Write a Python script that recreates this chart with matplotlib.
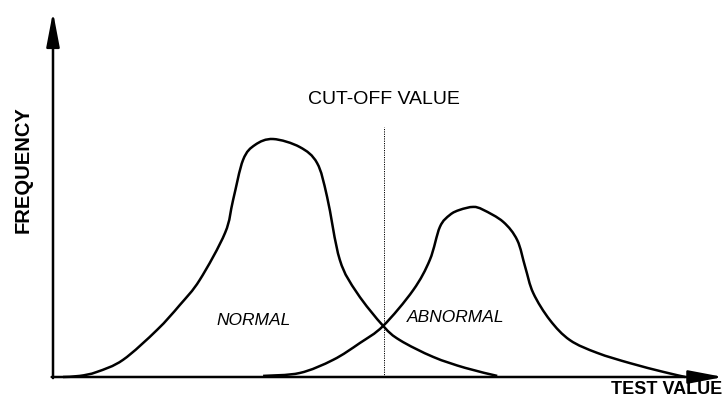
import matplotlib.pyplot as plt
from matplotlib.path import Path
from matplotlib.patches import PathPatch

# values (test value 0-100, frequency 0-100)
normal_x = [1.5, 4.0, 6.6, 10.5, 15.6, 19.0, 22.0, 25.8, 27.0, 28.5, 30.3, 33.0,
            37.0, 39.6, 41.1, 43.0, 45.6, 49.5, 52.0, 57.0, 61.8, 66.6]
normal_y = [0.0, 0.3, 1.4, 4.7, 12.9, 19.7, 26.6, 39.5, 48.5, 59.5, 63.6, 65.2,
            63.0, 58.6, 49.3, 32.1, 23.0, 14.0, 10.1, 5.5, 2.5, 0.3]

abnormal_x = [31.5, 37.0, 42.0, 46.0, 49.5, 54.0, 56.5, 58.0, 59.5, 61.0, 63.0,
              64.5, 67.5, 69.6, 70.8, 72.0, 74.5, 77.5, 81.6, 86.5, 91.5, 94.8]
abnormal_y = [0.3, 1.1, 4.7, 9.3, 14.0, 23.8, 32.1, 41.1, 44.4, 45.8, 46.6,
              45.8, 42.5, 37.5, 30.1, 23.0, 15.6, 10.1, 6.6, 3.8, 1.4, 0.0]

cutoff = 49.6
cutoff_top = 68.5

plt.rcParams['font.family'] = ['Liberation Sans', 'DejaVu Sans']


def smooth_path(xs, ys):
    # Catmull-Rom through the points, written as cubic Bezier segments
    pts = list(zip(xs, ys))
    verts = [pts[0]]
    codes = [Path.MOVETO]
    for i in range(len(pts) - 1):
        p0 = pts[i - 1] if i > 0 else pts[i]
        p1 = pts[i]
        p2 = pts[i + 1]
        p3 = pts[i + 2] if i + 2 < len(pts) else pts[i + 1]
        c1 = (p1[0] + (p2[0] - p0[0]) / 6, p1[1] + (p2[1] - p0[1]) / 6)
        c2 = (p2[0] - (p3[0] - p1[0]) / 6, p2[1] - (p3[1] - p1[1]) / 6)
        verts += [c1, c2, p2]
        codes += [Path.CURVE4] * 3
    return Path(verts, codes)


fig = plt.figure(figsize=(7.23, 4.12), dpi=100)
ax = fig.add_axes([53 / 723, 35 / 412, 667 / 723, 365 / 412])
ax.set_xlim(0, 100)
ax.set_ylim(0, 100)
ax.axis('off')

for xs, ys in [(normal_x, normal_y), (abnormal_x, abnormal_y)]:
    ax.add_patch(PathPatch(smooth_path(xs, ys), facecolor='none',
                           edgecolor='black', lw=1.8, clip_on=False))
ax.plot([cutoff, cutoff], [0, cutoff_top], color='black', lw=0.7,
        linestyle=(0, (1.2, 1.2)))

# axes with arrow heads
arrow = dict(arrowstyle='-|>,head_length=2.1,head_width=0.4', lw=1.8,
             color='black', shrinkA=0, shrinkB=0)
ax.annotate('', xy=(0, 100), xytext=(0, -0.3), arrowprops=arrow,
            annotation_clip=False)
ax.annotate('', xy=(100.5, 0), xytext=(-0.2, 0), arrowprops=arrow,
            annotation_clip=False)

ax.text(cutoff, 76, 'CUT-OFF VALUE', ha='center', va='center', fontsize=14)
ax.text(30.0, 15.6, 'NORMAL', ha='center', va='center', fontsize=12.5,
        style='italic')
ax.text(60.3, 16.2, 'ABNORMAL', ha='center', va='center', fontsize=12.5,
        style='italic')

fig.text(23 / 723, 1 - 170 / 412, 'FREQUENCY', rotation=90, ha='center',
         va='center', fontsize=14.5, fontweight='bold')
fig.text(667 / 723, 1 - 389 / 412, 'TEST VALUE', ha='center', va='center',
         fontsize=13, fontweight='bold')

fig.savefig('out.png', dpi=100, facecolor='white')
